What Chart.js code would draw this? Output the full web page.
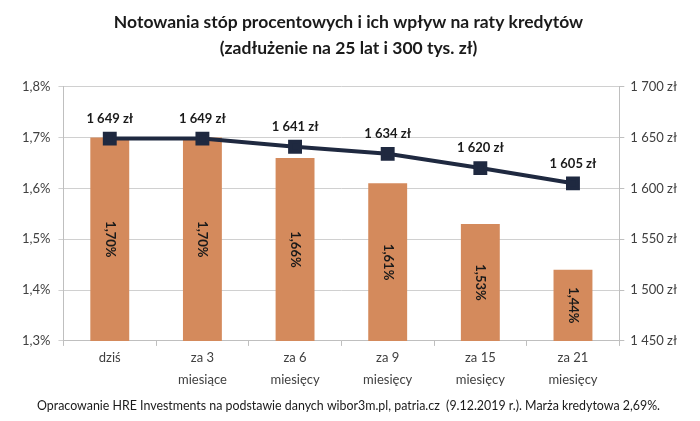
<!DOCTYPE html>
<html>
<head>
<meta charset="utf-8">
<script src="https://cdn.jsdelivr.net/npm/chart.js@4"></script>
<style>
  html, body { margin: 0; padding: 0; background: #fff; }
  #wrap { width: 700px; height: 421px; }
</style>
</head>
<body>
<div id="wrap"><canvas id="graphCanvas" width="700" height="421"></canvas></div>
<script>
var labels = [['dziś'], ['za 3', 'miesiące'], ['za 6', 'miesięcy'], ['za 9', 'miesięcy'], ['za 15', 'miesięcy'], ['za 21', 'miesięcy']];
var rates = [1.70, 1.70, 1.66, 1.61, 1.53, 1.44];
var installments = [1649, 1649, 1641, 1634, 1620, 1605];

function plFormat(n) {
    return String(n).replace(/\B(?=(\d{3})+(?!\d))/g, ' ');
}

var labelPlugin = {
    id: 'valueLabels',
    afterDraw: function (chart) {
        var ctx = chart.ctx;
        var yScale = chart.scales.y;
        ctx.save();
        ctx.fillStyle = '#1a1a1a';
        ctx.font = 'bold 13px Lato';
        ctx.textAlign = 'center';
        ctx.textBaseline = 'middle';

        chart.getDatasetMeta(1).data.forEach(function (bar, i) {
            var top = yScale.getPixelForValue(rates[i]);
            var mid = (top + yScale.bottom) / 2;
            ctx.save();
            ctx.translate(bar.x, mid);
            ctx.rotate(Math.PI / 2);
            ctx.fillText(rates[i].toFixed(2).replace('.', ',') + '%', 0, 0);
            ctx.restore();
        });

        chart.getDatasetMeta(0).data.forEach(function (pt, i) {
            ctx.fillText(plFormat(installments[i]) + ' zł', pt.x, pt.y - 20);
        });
        ctx.restore();
    }
};

new Chart(document.getElementById('graphCanvas'), {
    data: {
        labels: labels,
        datasets: [
            {
                type: 'line',
                data: installments,
                yAxisID: 'y2',
                borderColor: '#1f2940',
                backgroundColor: '#1f2940',
                borderWidth: 4,
                pointStyle: 'rect',
                pointRadius: 7,
                pointHoverRadius: 7,
                tension: 0,
                order: 0
            },
            {
                type: 'bar',
                data: rates,
                yAxisID: 'y',
                backgroundColor: '#d48a5c',
                barPercentage: 0.42,
                categoryPercentage: 1,
                order: 1
            }
        ]
    },
    options: {
        responsive: false,
        animation: false,
        devicePixelRatio: 1,
        layout: { padding: { left: 14, right: 17, top: 0, bottom: 0 } },
        plugins: {
            legend: { display: false },
            tooltip: { enabled: false },
            title: {
                display: true,
                text: ['Notowania stóp procentowych i ich wpływ na raty kredytów', '(zadłużenie na 25 lat i 300 tys. zł)'],
                color: '#1a1a1a',
                font: { family: 'Lato', size: 17.5, weight: 'bold', lineHeight: 1.45 },
                padding: { top: 10, bottom: 26 }
            },
            subtitle: {
                display: true,
                position: 'bottom',
                text: 'Opracowanie HRE Investments na podstawie danych wibor3m.pl, patria.cz  (9.12.2019 r.). Marża kredytowa 2,69%.',
                color: '#1a1a1a',
                font: { family: 'Lato', size: 12.4 },
                padding: { top: 6, bottom: 8 }
            }
        },
        scales: {
            x: {
                offset: true,
                grid: { offset: true, drawOnChartArea: false, color: '#bfbfbf', tickLength: 5 },
                border: { color: '#bfbfbf' },
                ticks: { color: '#404040', font: { family: 'Lato', size: 13, lineHeight: 1.7 }, padding: 1 }
            },
            y: {
                position: 'left',
                min: 1.3,
                max: 1.8,
                ticks: {
                    stepSize: 0.1,
                    color: '#404040',
                    font: { family: 'Lato', size: 13 },
                    padding: 8,
                    callback: function (v) { return v.toFixed(1).replace('.', ',') + '%'; }
                },
                grid: { color: '#d0d0d0', tickLength: 5 },
                border: { color: '#bfbfbf' }
            },
            y2: {
                position: 'right',
                min: 1450,
                max: 1700,
                ticks: {
                    stepSize: 50,
                    color: '#404040',
                    font: { family: 'Lato', size: 13 },
                    padding: 6,
                    callback: function (v) { return plFormat(v) + ' zł'; }
                },
                grid: { drawOnChartArea: false, color: '#bfbfbf', tickLength: 5 },
                border: { color: '#bfbfbf' }
            }
        }
    },
    plugins: [labelPlugin]
});
</script>
</body>
</html>
